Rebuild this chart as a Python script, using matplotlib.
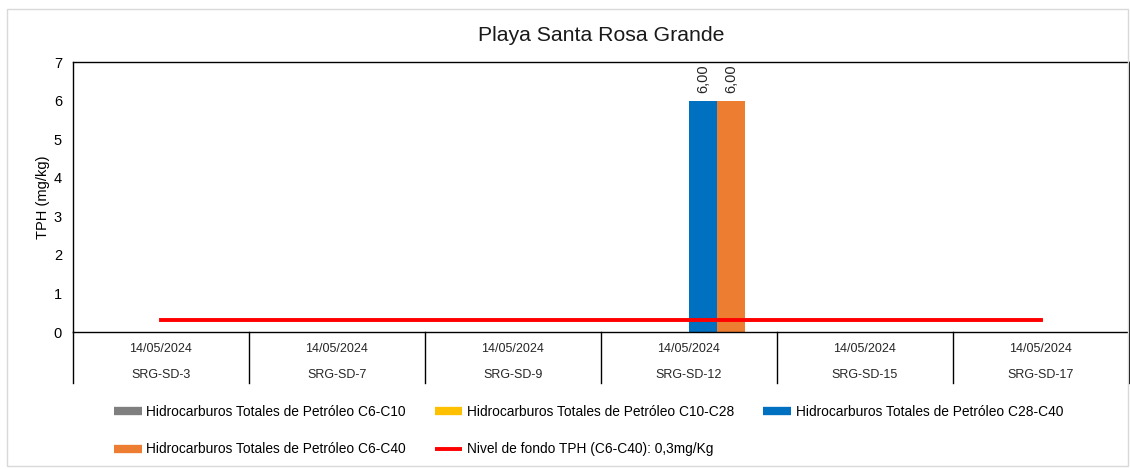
import numpy as np
import matplotlib
matplotlib.use('Agg')
import matplotlib.pyplot as plt
from matplotlib.patches import Rectangle
from matplotlib.lines import Line2D

plt.rcParams['font.family'] = ['Liberation Sans', 'DejaVu Sans']

# data
stations = ['SRG-SD-3', 'SRG-SD-7', 'SRG-SD-9', 'SRG-SD-12', 'SRG-SD-15', 'SRG-SD-17']
dates = ['14/05/2024'] * 6
series_names = ['Hidrocarburos Totales de Petróleo C6-C10',
                'Hidrocarburos Totales de Petróleo C10-C28',
                'Hidrocarburos Totales de Petróleo C28-C40',
                'Hidrocarburos Totales de Petróleo C6-C40']
tph_c6_c10 = [np.nan, np.nan, np.nan, np.nan, np.nan, np.nan]
tph_c10_c28 = [np.nan, np.nan, np.nan, np.nan, np.nan, np.nan]
tph_c28_c40 = [np.nan, np.nan, np.nan, 6.0, np.nan, np.nan]
tph_c6_c40 = [np.nan, np.nan, np.nan, 6.0, np.nan, np.nan]
background_level = 0.3
background_label = 'Nivel de fondo TPH (C6-C40): 0,3mg/Kg'

colors = ['#7f7f7f', '#ffc000', '#0070c0', '#ed7d31']
series = [tph_c6_c10, tph_c10_c28, tph_c28_c40, tph_c6_c40]

fig = plt.figure(figsize=(11.30, 4.69), dpi=100)
# outer frame
fig.patches.append(Rectangle((7 / 1130, 3 / 469), 1121 / 1130, 457 / 469, transform=fig.transFigure,
                             fill=False, edgecolor='#d9d9d9', linewidth=1))
ax = fig.add_axes([73 / 1130, 1 - 332 / 469, 1056 / 1130, 270 / 469])

x = np.arange(len(stations))
width = 0.159
offsets = (np.arange(4) - 1.5) * width
for vals, off, c in zip(series, offsets, colors):
    bars = ax.bar(x + off, vals, width, color=c, zorder=2)
    for b, v in zip(bars, vals):
        if not np.isnan(v):
            ax.text(b.get_x() + b.get_width() / 2, v + 0.2, f'{v:.2f}'.replace('.', ','),
                    rotation=90, ha='center', va='bottom', fontsize=10.5, color='#262626')

ax.plot([x[0], x[-1]], [background_level] * 2, color='#ff0000', linewidth=2.8, zorder=3)

ax.set_xlim(-0.5, len(stations) - 0.5)
ax.set_ylim(0, 7)
ax.set_yticks(range(8))
ax.tick_params(axis='y', length=0, labelsize=10.5, pad=8)
ax.set_xticks([])
for s in ax.spines.values():
    s.set_color('black')
    s.set_linewidth(1)
ax.set_ylabel('TPH (mg/kg)', fontsize=10.5)
ax.yaxis.set_label_coords(-23 / 1056, 0.5)
ax.set_title('Playa Santa Rosa Grande', fontsize=15.3, pad=15, color='#1a1a1a')

# two-level category axis
trans = ax.get_xaxis_transform()
for i in range(len(stations) + 1):
    ax.add_line(Line2D([i - 0.5, i - 0.5], [0, -51 / 270], transform=trans, color='black',
                       linewidth=1, clip_on=False))
for i, (d, s) in enumerate(zip(dates, stations)):
    ax.text(i, -17 / 270, d, transform=trans, ha='center', va='center', fontsize=9, color='#262626')
    ax.text(i, -43 / 270, s, transform=trans, ha='center', va='center', fontsize=9, color='#262626')

handles = [Line2D([], [], color=c, linewidth=6, solid_capstyle='butt') for c in colors]
handles.append(Line2D([], [], color='#ff0000', linewidth=2.8, solid_capstyle='butt'))
labels = series_names + [background_label]
# legend fills column by column; reorder so it reads row by row
order = [0, 3, 1, 4, 2]
fig.legend([handles[i] for i in order], [labels[i] for i in order], loc='upper left',
           bbox_to_anchor=(114 / 1130, 1 - 405 / 469), ncol=3, frameon=False, fontsize=9.9,
           handlelength=2.0, handletextpad=0.35, columnspacing=2.1, labelspacing=1.7,
           borderpad=0, borderaxespad=0)

fig.savefig('out.png', dpi=100)
